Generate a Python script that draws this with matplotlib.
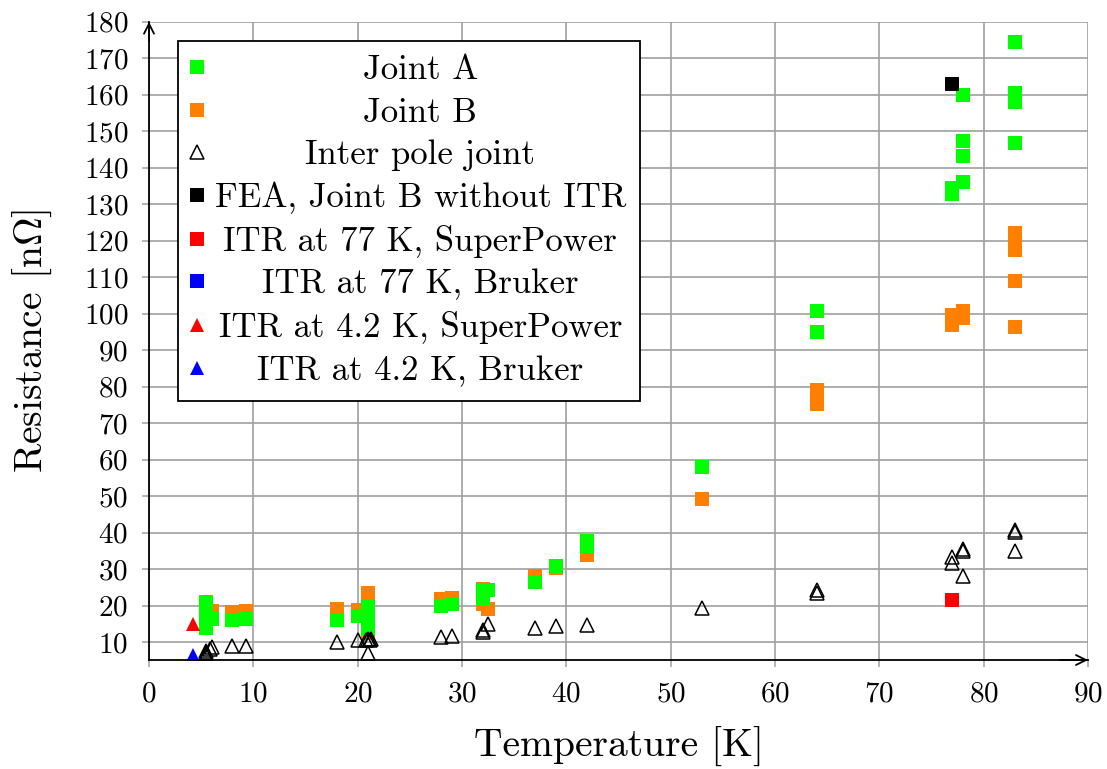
import matplotlib
matplotlib.use("Agg")
import matplotlib.pyplot as plt
from matplotlib.lines import Line2D

plt.rcParams["font.family"] = "serif"
plt.rcParams["font.serif"] = ["cmr10"]
plt.rcParams["mathtext.fontset"] = "cm"
plt.rcParams["axes.formatter.use_mathtext"] = True

# Joint A (green squares)
joint_a_t = [5.5, 5.5, 5.5, 6.0, 8.0, 9.3, 18, 20, 21, 21, 21, 28, 29, 32, 32, 32.5,
             37, 39, 42, 42, 53, 64, 64, 77, 77, 78, 78, 78, 78, 83, 83, 83, 83]
joint_a_r = [20.6, 17.2, 14.0, 16.3, 16.0, 16.3, 16.1, 17.3, 19.5, 16.8, 13.6, 20.0, 20.4,
             24.0, 21.8, 24.3, 26.6, 30.8, 37.6, 36.3, 57.9, 100.7, 95.0, 134.4, 132.7,
             159.8, 147.2, 143.1, 136.2, 174.3, 160.4, 158.0, 146.8]

# Joint B (orange squares)
joint_b_t = [5.5, 6.0, 8.0, 9.3, 18, 20, 21, 21, 28, 29, 32, 32, 32.5, 37, 39, 42, 53,
             64, 64, 77, 77, 78, 78, 83, 83, 83, 83, 83]
joint_b_r = [21.0, 18.4, 18.3, 18.6, 19.2, 18.9, 23.5, 12.6, 21.9, 22.0, 24.6, 20.5, 19.2,
             28.2, 30.2, 33.8, 49.3, 79.0, 75.3, 99.7, 96.8, 100.6, 98.8, 122.0, 119.7,
             117.4, 108.9, 96.4]

# Inter pole joint (open triangles)
inter_t = [5.5, 5.5, 5.5, 5.8, 6.0, 8.0, 9.3, 18, 20, 20.8, 21.0, 21.2, 21.3, 21, 28, 29,
           32, 32, 32.5, 37, 39, 42, 53, 64, 64, 77, 77, 78, 78, 78, 83, 83, 83]
inter_r = [6.5, 7.0, 7.6, 8.2, 8.8, 9.0, 9.0, 10.0, 10.5, 10.6, 10.9, 10.6, 10.9, 6.9,
           11.4, 11.6, 12.8, 13.3, 15.1, 13.9, 14.3, 14.8, 19.3, 24.3, 23.6, 33.2, 31.7,
           35.6, 35.1, 28.0, 40.6, 40.1, 35.1]

fea_t = [77]
fea_r = [163.0]
itr77_sp_t = [77]
itr77_sp_r = [21.5]
itr77_br_t = []
itr77_br_r = []
itr4_sp_t = [4.2]
itr4_sp_r = [15.1]
itr4_br_t = [4.2]
itr4_br_r = [6.4]

xticks = list(range(0, 91, 10))
yticks = list(range(10, 181, 10))

GREEN = "#00ff00"
ORANGE = "#ff8000"
GRID = "#a0a0a0"
SQ = 10.5
TRI = 9.5

fig = plt.figure(figsize=(11.07, 7.69), dpi=100)
ax = fig.add_axes([0.1346, 0.1417, 0.8482, 0.8301])

ax.plot(joint_b_t, joint_b_r, "s", color=ORANGE, ms=SQ, mew=0, zorder=3)
ax.plot(joint_a_t, joint_a_r, "s", color=GREEN, ms=SQ, mew=0, zorder=4)
ax.plot(inter_t, inter_r, "^", mfc="none", mec="black", ms=TRI, mew=1.1, zorder=5)
ax.plot(fea_t, fea_r, "s", color="black", ms=SQ, mew=0, zorder=6)
ax.plot(itr77_sp_t, itr77_sp_r, "s", color="red", ms=SQ, mew=0, zorder=6)
ax.plot(itr77_br_t, itr77_br_r, "s", color="blue", ms=SQ, mew=0, zorder=6)
ax.plot(itr4_sp_t, itr4_sp_r, "^", color="red", ms=TRI, mew=0, zorder=6)
ax.plot(itr4_br_t, itr4_br_r, "^", color="blue", ms=TRI, mew=0, zorder=6)

ax.set_xlim(0, 90)
ax.set_ylim(5.1, 180)
ax.set_xticks(xticks)
ax.set_yticks(yticks)
ax.grid(True, color=GRID, lw=1.2)
ax.set_axisbelow(True)
ax.tick_params(direction="out", length=5, width=1.1, color=GRID, labelsize=21, pad=10)

for s in ["top", "right"]:
    ax.spines[s].set_visible(False)
for s in ["left", "bottom"]:
    ax.spines[s].set_linewidth(1.3)
    ax.spines[s].set_zorder(7)

arrow = dict(arrowstyle="->", lw=1.3, color="black", shrinkA=0, shrinkB=0,
             mutation_scale=18)
ax.annotate("", xy=(1.0, 0), xytext=(0.97, 0), xycoords="axes fraction", arrowprops=arrow)
ax.annotate("", xy=(0, 1.0), xytext=(0, 0.97), xycoords="axes fraction", arrowprops=arrow)

ax.set_xlabel("Temperature [K]", fontsize=28.5)
ax.set_ylabel(r"Resistance [n$\mathrm{\Omega}$]", fontsize=28.5)
ax.xaxis.set_label_coords(0.5, -0.105)
ax.yaxis.set_label_coords(-0.101, 0.5)

handles = [
    Line2D([], [], ls="none", marker="s", color=GREEN, ms=SQ, mew=0),
    Line2D([], [], ls="none", marker="s", color=ORANGE, ms=SQ, mew=0),
    Line2D([], [], ls="none", marker="^", mfc="none", mec="black", ms=TRI, mew=1.1),
    Line2D([], [], ls="none", marker="s", color="black", ms=SQ, mew=0),
    Line2D([], [], ls="none", marker="s", color="red", ms=SQ, mew=0),
    Line2D([], [], ls="none", marker="s", color="blue", ms=SQ, mew=0),
    Line2D([], [], ls="none", marker="^", color="red", ms=TRI, mew=0),
    Line2D([], [], ls="none", marker="^", color="blue", ms=TRI, mew=0),
]
labels = ["Joint A", "Joint B", "Inter pole joint", "FEA, Joint B without ITR",
          "ITR at 77 K, SuperPower", "ITR at 77 K, Bruker",
          "ITR at 4.2 K, SuperPower", "ITR at 4.2 K, Bruker"]

leg = ax.legend(handles, labels, loc="upper left", bbox_to_anchor=(0.031, 0.970),
                fontsize=25, fancybox=False, edgecolor="black", framealpha=1,
                borderpad=0.4, handlelength=0.3, handletextpad=0.35,
                labelspacing=0.31, borderaxespad=0)
leg.get_frame().set_linewidth(1.3)
leg.set_zorder(10)

# centre the legend texts like the original (shift inside their text areas)
fig.canvas.draw()
texts = leg.get_texts()
boxes = [t.get_window_extent() for t in texts]
mid = (min(b.x0 for b in boxes) + max(b.x1 for b in boxes)) / 2
for t, b in zip(texts, boxes):
    t.set_position((mid - (b.x0 + b.x1) / 2, 0))

fig.savefig("out.png", dpi=100)
